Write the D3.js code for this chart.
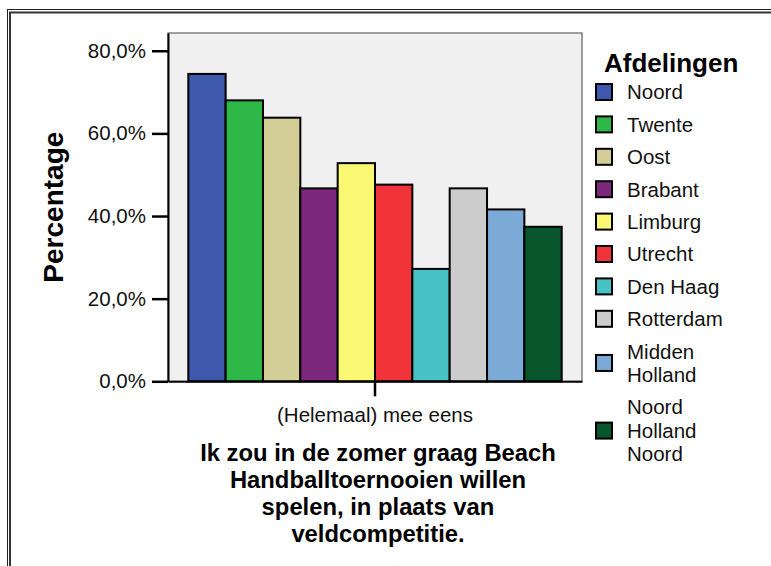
<!DOCTYPE html>
<html>
<head>
<meta charset="utf-8">
<script src="https://cdn.jsdelivr.net/npm/d3@7"></script>
<style>
  html, body { margin: 0; padding: 0; background: #fff; }
  svg { display: block; font-family: "Liberation Sans", Arial, Helvetica, sans-serif; }
</style>
</head>
<body>
<svg id="chart" width="771" height="566"></svg>
<script>
// ---- data ----
const categories = ["(Helemaal) mee eens"];
const departments = ["Noord", "Twente", "Oost", "Brabant", "Limburg", "Utrecht", "Den Haag", "Rotterdam", "Midden Holland", "Noord Holland Noord"];
const values = [74.4, 68.0, 63.8, 46.7, 52.8, 47.6, 27.2, 46.7, 41.6, 37.4];
const colors = ["#3E58AC", "#2EB848", "#D3CE97", "#7C287D", "#FBF873", "#EF3338", "#48C2C5", "#CCCCCC", "#7AAAD5", "#0A562C"];
const legendLines = [["Noord"], ["Twente"], ["Oost"], ["Brabant"], ["Limburg"], ["Utrecht"], ["Den Haag"], ["Rotterdam"], ["Midden", "Holland"], ["Noord", "Holland", "Noord"]];
const yTicks = [0, 20, 40, 60, 80];
const yTitle = "Percentage";
const legendTitle = "Afdelingen";
const xTitleLines = ["Ik zou in de zomer graag Beach", "Handballtoernooien willen", "spelen, in plaats van", "veldcompetitie."];

// ---- layout ----
const svg = d3.select("#chart");
const plot = { left: 168, right: 582, top: 33, bottom: 381.3 };

// outer frame (double line, cut off at right/bottom)
svg.append("rect").attr("x", 7.5).attr("y", 9.5).attr("width", 900).attr("height", 900)
  .attr("fill", "none").attr("stroke", "#222").attr("stroke-width", 1);
svg.append("rect").attr("x", 10).attr("y", 12.5).attr("width", 900).attr("height", 900)
  .attr("fill", "none").attr("stroke", "#333").attr("stroke-width", 2);

const nl = d3.formatLocale({ decimal: ",", thousands: ".", grouping: [3], currency: ["€", ""] });
const fmt = v => nl.format(".1f")(v) + "%";

const y = d3.scaleLinear().domain([0, 84.3]).range([plot.bottom, plot.top]);
const x0 = d3.scaleBand().domain(categories).range([plot.left, plot.right]).paddingOuter(0).paddingInner(0);
const x1 = d3.scaleBand().domain(departments).range([20.3, x0.bandwidth() - 20.3]).padding(0);

// plot background
svg.append("rect")
  .attr("x", plot.left).attr("y", plot.top)
  .attr("width", plot.right - plot.left).attr("height", plot.bottom - plot.top)
  .attr("fill", "#f0f0f0").attr("stroke", "#444").attr("stroke-width", 1);

// bars
const data = departments.map((d, i) => ({ cat: categories[0], dep: d, v: values[i], c: colors[i] }));
svg.append("g").selectAll("rect").data(data).join("rect")
  .attr("x", d => x0(d.cat) + x1(d.dep))
  .attr("width", x1.bandwidth())
  .attr("y", d => y(d.v))
  .attr("height", d => y(0) - y(d.v))
  .attr("fill", d => d.c)
  .attr("stroke", "#000")
  .attr("stroke-width", 2);

// y axis
const yAxis = svg.append("g").attr("transform", `translate(${plot.left},0)`)
  .call(d3.axisLeft(y).tickValues(yTicks).tickFormat(fmt).tickSize(16).tickSizeOuter(0).tickPadding(6));
yAxis.select(".domain").attr("stroke", "#000").attr("stroke-width", 2);
yAxis.selectAll(".tick line").attr("stroke", "#000").attr("stroke-width", 2.5);
yAxis.selectAll(".tick text")
  .attr("font-size", 20.5).attr("fill", "#111")
  .attr("font-family", "'Liberation Sans', Arial, sans-serif");

// x axis
const xAxis = svg.append("g").attr("transform", `translate(0,${plot.bottom})`)
  .call(d3.axisBottom(x0).tickSize(15).tickSizeOuter(0).tickPadding(11));
xAxis.select(".domain").attr("stroke", "#000").attr("stroke-width", 2);
xAxis.selectAll(".tick line").attr("stroke", "#000").attr("stroke-width", 2.5);
xAxis.selectAll(".tick text").attr("font-size", 20.5).attr("fill", "#111")
  .attr("font-family", "'Liberation Sans', Arial, sans-serif");

// y title
svg.append("text")
  .attr("transform", `translate(63,${(plot.top + plot.bottom) / 2}) rotate(-90)`)
  .attr("text-anchor", "middle")
  .attr("font-size", 28).attr("font-weight", "bold").attr("fill", "#000")
  .text(yTitle);

// x title
const xt = svg.append("text").attr("text-anchor", "middle")
  .attr("font-size", 23.8).attr("font-weight", "bold").attr("fill", "#000");
xTitleLines.forEach((t, i) => {
  xt.append("tspan").attr("x", 378).attr("y", 461 + i * 27).text(t);
});

// legend
svg.append("text").attr("x", 604).attr("y", 71.5)
  .attr("font-size", 26).attr("font-weight", "bold").attr("fill", "#000")
  .text(legendTitle);

const lineH = 23.5, pad = 8.9;
let cy = 92 - (1 * lineH + pad) / 2;
const legend = svg.append("g");
legendLines.forEach((lines, i) => {
  const h = lines.length * lineH + pad;
  const center = cy + h / 2;
  legend.append("rect")
    .attr("x", 596).attr("y", center - 8)
    .attr("width", 16).attr("height", 16)
    .attr("fill", colors[i]).attr("stroke", "#000").attr("stroke-width", 2);
  const t = legend.append("text").attr("font-size", 20.5).attr("fill", "#111");
  lines.forEach((ln, j) => {
    t.append("tspan").attr("x", 627)
      .attr("y", center + (j - (lines.length - 1) / 2) * lineH + 7.3)
      .text(ln);
  });
  cy += h;
});
</script>
</body>
</html>
